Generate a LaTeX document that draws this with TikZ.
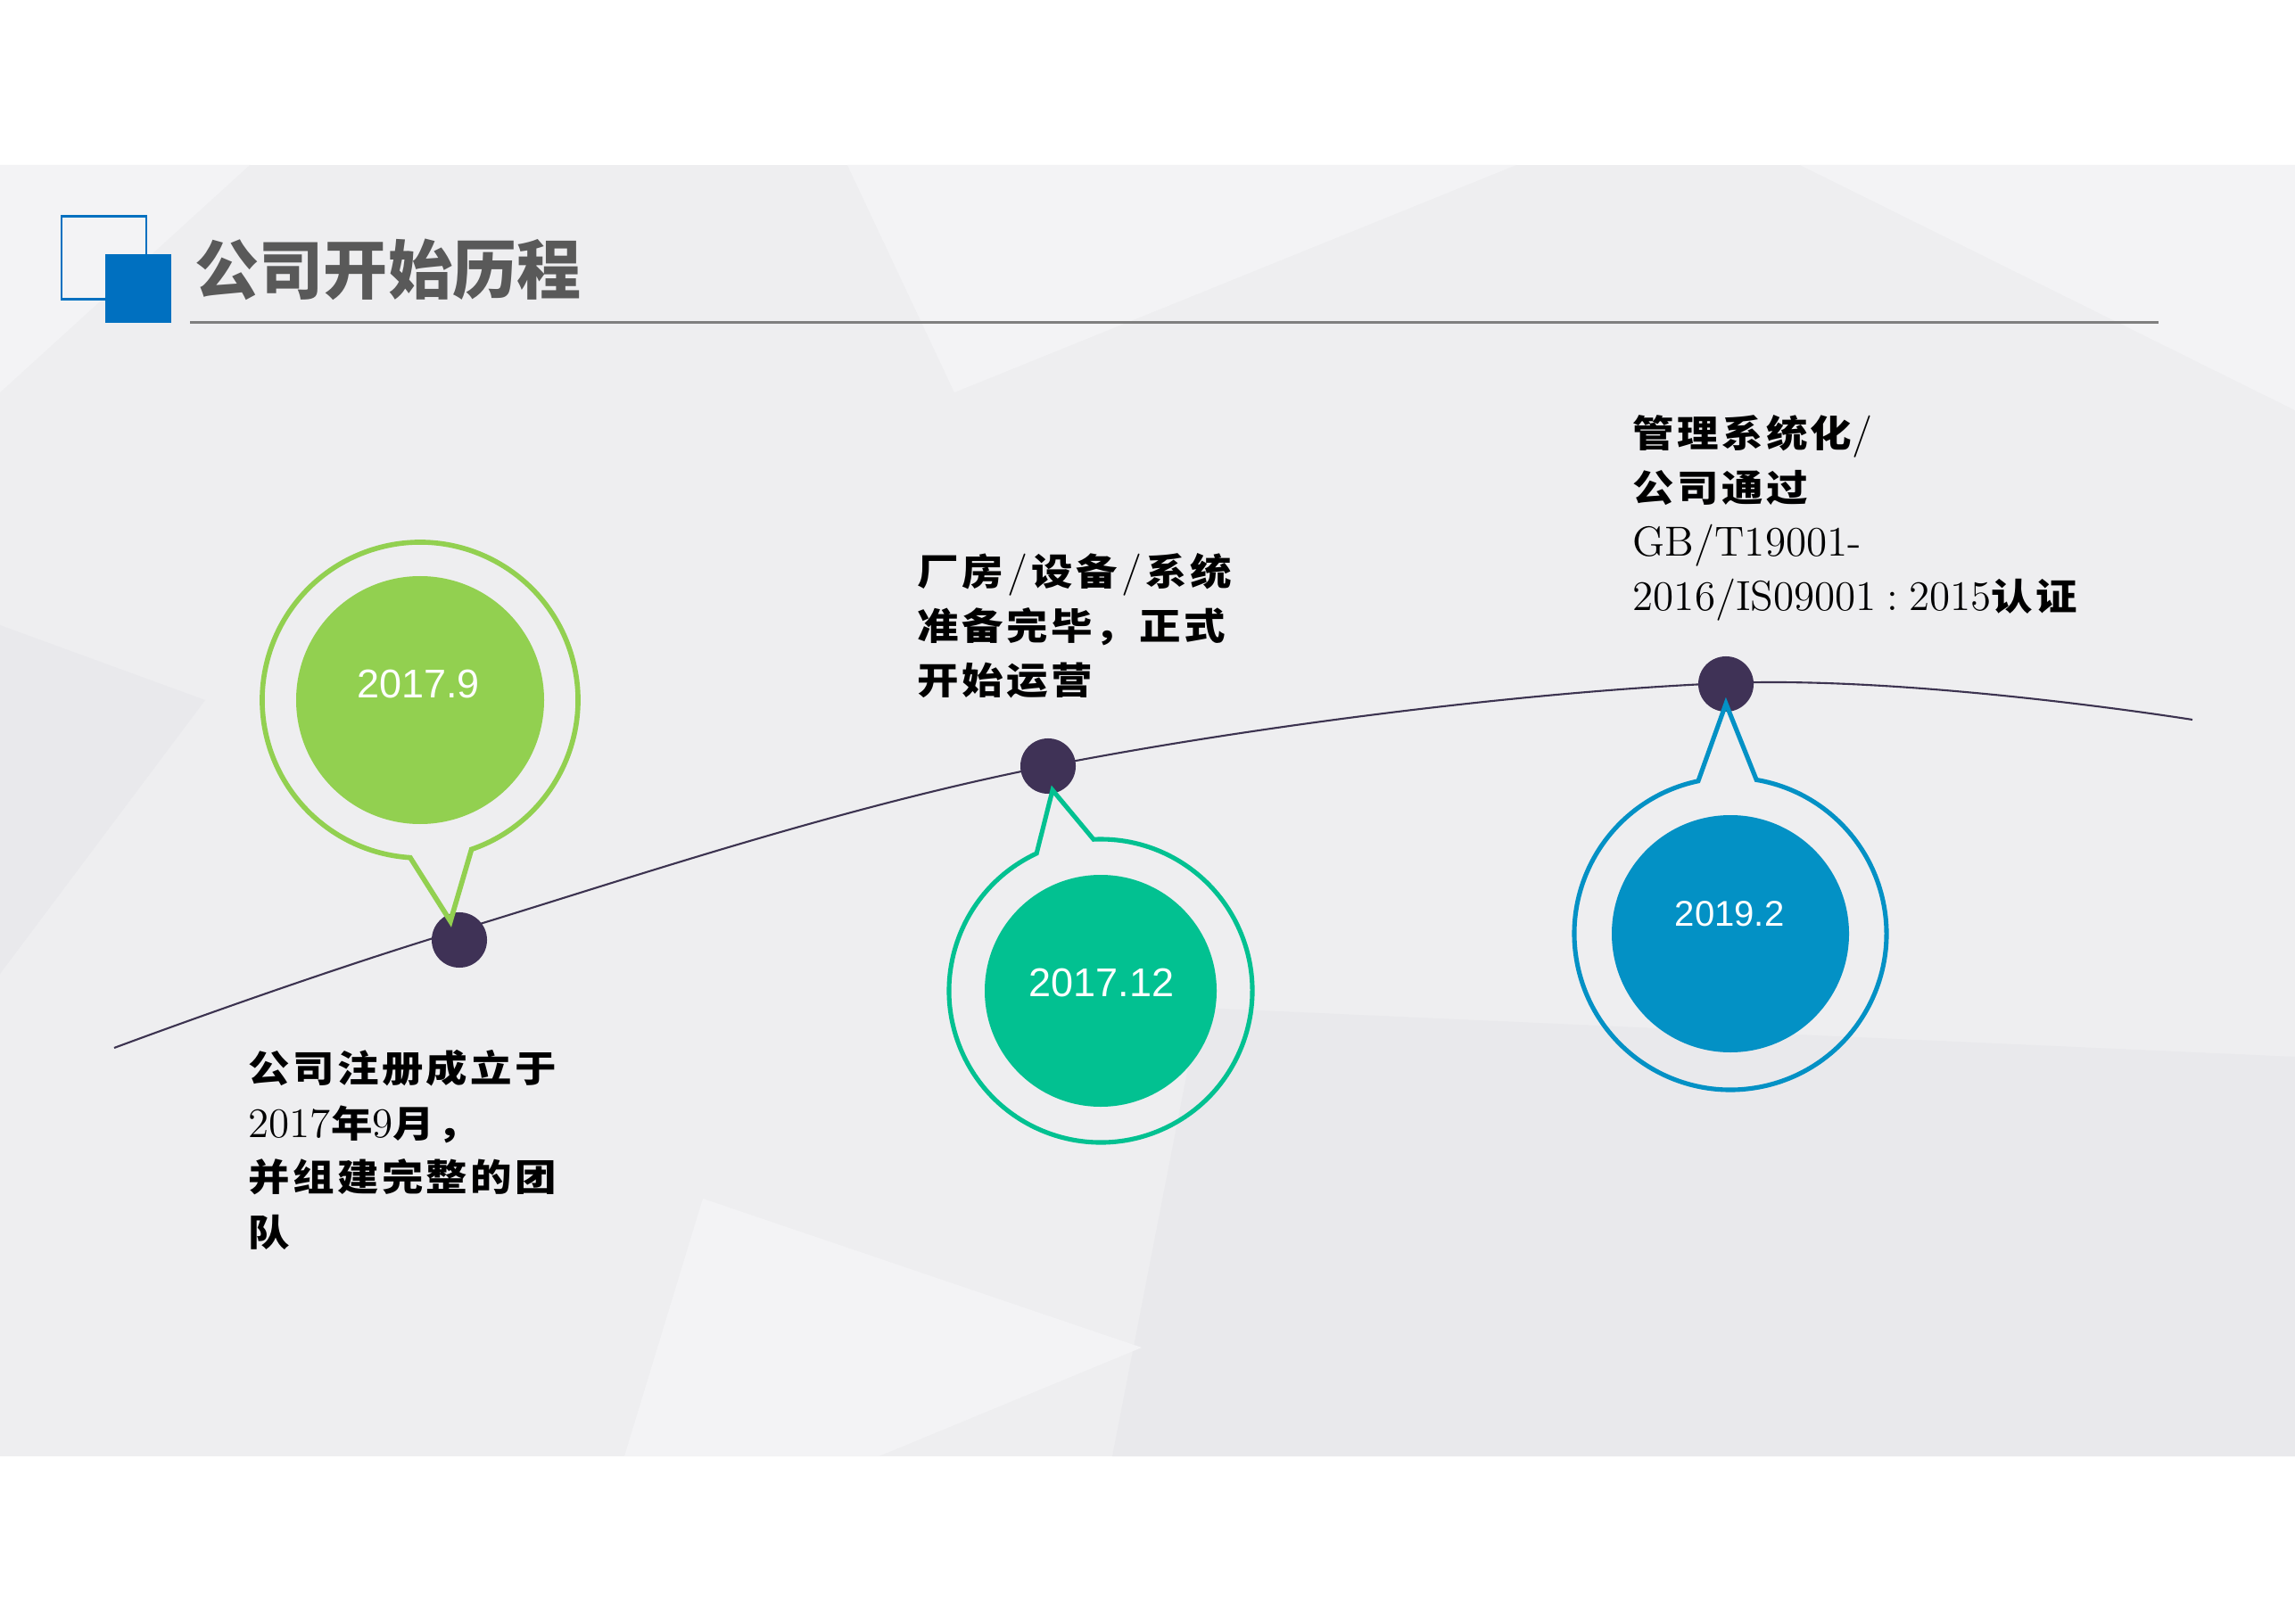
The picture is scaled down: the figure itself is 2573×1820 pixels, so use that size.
\documentclass[tikz,border=0pt]{standalone}
\usepackage{fontspec}
\usetikzlibrary{calc}
\newfontfamily\cjkt{Noto Sans CJK SC}
\newfontfamily\cjkl[FakeStretch=1.12,LetterSpace=8]{Noto Sans CJK SC}
\newfontfamily\arialf{Liberation Sans}
\definecolor{bandc}{HTML}{EEEEF0}
\definecolor{lightf}{HTML}{F3F3F5}
\definecolor{darkf}{HTML}{E9E9EC}
\definecolor{logob}{HTML}{0070C0}
\definecolor{titleg}{HTML}{595959}
\definecolor{ruleg}{HTML}{7F7F7F}
\definecolor{tlc}{HTML}{3C3350}
\definecolor{dotc}{HTML}{3F3256}
\definecolor{gr}{HTML}{92D050}
\definecolor{te}{HTML}{02C191}
\definecolor{bl}{HTML}{0391C5}
\newcommand{\cz}[1]{{\cjkl\bfseries\fontsize{11.8pt}{14pt}\selectfont #1}}
\newcommand{\sls}{\hspace{0.09em}/\hspace{0.09em}}
\tikzset{
  lbl/.style={inner sep=0pt, anchor=base west, text=black, font=\fontsize{13.4pt}{16pt}\selectfont},
  datef/.style={inner sep=0pt, text=white, font=\arialf\fontsize{12.8pt}{15pt}\selectfont},
  dotn/.style={circle, fill=dotc, inner sep=0pt, minimum size=0.62cm},
  ring/.style={line width=1.45pt, line join=miter},
  tline/.style={draw=tlc, line width=0.6pt}
}
\begin{document}
\begin{tikzpicture}[x=0.01cm, y=0.01cm]
\useasboundingbox (0,0) rectangle (2573,1820);
\fill[white] (0,0) rectangle (2573,1820);
% background band with facets
\fill[bandc] (0,187) rectangle (2573,1635);
\begin{scope}
\clip (0,187) rectangle (2573,1635);
\fill[lightf] (0,1635) -- (280,1635) -- (0,1380) -- cycle;
\fill[lightf] (950,1635) -- (1700,1635) -- (1070,1380) -- cycle;
\fill[lightf] (2018,1635) -- (2573,1635) -- (2573,1360) -- cycle;
\fill[darkf] (0,1119) -- (230,1035) -- (0,728) -- cycle;
\fill[darkf] (1345,690) -- (2573,635) -- (2573,187) -- (1247,187) -- cycle;
\fill[lightf] (788,476) -- (1280,309) -- (985,187) -- (700,187) -- cycle;
\end{scope}
% logo and title
\draw[logob, line width=0.85pt] (69,1484) rectangle (164,1577);
\fill[logob] (118,1458) rectangle (192,1535);
\node[inner sep=0pt, text=titleg, font=\cjkt\bfseries\fontsize{20.5pt}{24pt}\selectfont] (title) at (435,1518) {公司开始历程};
\coordinate (ruleL) at (213,1458);
\coordinate (ruleR) at (2420,1458);
\draw[ruleg, line width=0.85pt] (ruleL) -- (ruleR);
% timeline
\draw[tline] plot[smooth, tension=0.6] coordinates {(128,645) (515,777) (1175,961) (1935,1054) (2458,1013)};
\node[dotn] (d1) at (515,766) {};
\node[dotn] (d2) at (1175,961) {};
\node[dotn] (d3) at (1935,1053) {};
% bubble 1
\coordinate (c1) at (471,1035);
\coordinate (t1) at (505,787);
\fill[gr] (c1) circle[radius=139];
\draw[gr, ring, line width=1.6pt] ($(c1)+(-71:177)$) arc[start angle=-71, end angle=266.4, radius=177] -- (t1) -- cycle;
\node[datef] (y1) at (469,1053) {2017.9};
% bubble 2
\coordinate (c2) at (1234,709);
\coordinate (t2) at (1180,934);
\fill[te] (c2) circle[radius=130];
\draw[te, ring] ($(c2)+(115:170)$) arc[start angle=115, end angle=452.7, radius=170] -- (t2) -- cycle;
\node[datef] (y2) at (1235,718) {2017.12};
% bubble 3
\coordinate (c3) at (1940,773);
\coordinate (t3) at (1935,1031);
\fill[bl] (c3) circle[radius=133];
\draw[bl, ring] ($(c3)+(101.9:175)$) arc[start angle=101.9, end angle=440.4, radius=175] -- (t3) -- cycle;
\node[datef, font=\arialf\fontsize{11.4pt}{14pt}\selectfont] (y3) at (1939,795) {2019.2};
% labels 1
\node[lbl] (a1) at (278,607) {\cz{公司注册成立于}};
\node[lbl] (a2) at (278,545) {2017\cz{年}9\cz{月，}};
\node[lbl] (a3) at (278,485) {\cz{并组建完整的团}};
\node[lbl] (a4) at (278,423) {\cz{队}};
% labels 2
\node[lbl] (b1) at (1028,1163) {\cz{厂房}\sls\cz{设备}\sls\cz{系统}};
\node[lbl] (b2) at (1028,1102) {\cz{准备完毕，正式}};
\node[lbl] (b3) at (1028,1041) {\cz{开始运营}};
% labels 3
\node[lbl] (e1) at (1830,1318) {\cz{管理系统化}/};
\node[lbl] (e2) at (1830,1257) {\cz{公司通过}};
\node[lbl] (e3) at (1830,1196) {GB/T19001-};
\node[lbl] (e4) at (1830,1135) {2016/IS09001\hspace{0.25em}:\hspace{0.25em}2015\cz{认证}};
\end{tikzpicture}
\end{document}
